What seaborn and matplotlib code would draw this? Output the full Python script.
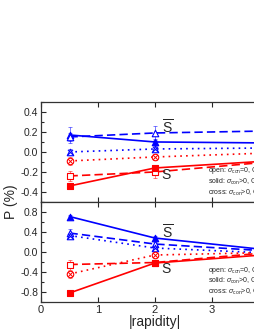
import numpy as np
import pandas as pd
import matplotlib
matplotlib.use('Agg')
import matplotlib.pyplot as plt
import seaborn as sns
from matplotlib.ticker import MultipleLocator

sns.set_style('ticks')
plt.rcParams['font.family'] = ['Liberation Sans', 'DejaVu Sans']
plt.rcParams['mathtext.fontset'] = 'custom'
plt.rcParams['mathtext.rm'] = 'Liberation Sans'
plt.rcParams['mathtext.it'] = 'Liberation Sans:italic'

# data: |rapidity| points, polarization P (%)
rapidity = [0.5, 2.0, 4.0]
series = ['sbar_solid', 'sbar_open', 'sbar_cross', 's_cross', 's_open', 's_solid']

top_vals = {
    'sbar_solid': [0.17, 0.10, 0.09],
    'sbar_open':  [0.15, 0.19, 0.21],
    'sbar_cross': [0.00, 0.03, 0.04],
    's_cross':    [-0.09, -0.05, -0.01],
    's_open':     [-0.24, -0.20, -0.10],
    's_solid':    [-0.34, -0.16, -0.09],
}
top_err = {
    'sbar_solid': [0.08, 0.03, 0.0],
    'sbar_open':  [0.04, 0.07, 0.0],
    'sbar_cross': [0.03, 0.03, 0.0],
    's_cross':    [0.04, 0.03, 0.0],
    's_open':     [0.05, 0.06, 0.0],
    's_solid':    [0.03, 0.03, 0.0],
}
bot_vals = {
    'sbar_solid': [0.71, 0.28, 0.04],
    'sbar_open':  [0.38, 0.16, 0.02],
    'sbar_cross': [0.33, 0.08, -0.02],
    's_cross':    [-0.44, -0.06, -0.01],
    's_open':     [-0.25, -0.21, -0.01],
    's_solid':    [-0.82, -0.22, -0.05],
}
bot_err = {
    'sbar_solid': [0.04, 0.04, 0.0],
    'sbar_open':  [0.08, 0.04, 0.0],
    'sbar_cross': [0.05, 0.04, 0.0],
    's_cross':    [0.07, 0.04, 0.0],
    's_open':     [0.10, 0.04, 0.0],
    's_solid':    [0.06, 0.03, 0.0],
}

legend_lines = [r'open: $\sigma_{\rm con}$=0, G$_V$=0',
                r'solid: $\sigma_{\rm con}$>0, G$_V$=0',
                r'cross: $\sigma_{\rm con}$>0, G$_V$>0']

BLUE = '#0000ff'
RED = '#ff0000'
style = {
    'sbar_solid': dict(color=BLUE, ls='-', marker='^', fill=True),
    'sbar_open':  dict(color=BLUE, ls=(0, (5, 2.5)), marker='^', fill=False),
    'sbar_cross': dict(color=BLUE, ls=(0, (1, 2.5)), marker='^', fill=False, cross=True),
    's_cross':    dict(color=RED, ls=(0, (1, 2.5)), marker='o', fill=False, cross=True),
    's_open':     dict(color=RED, ls=(0, (5, 2.5)), marker='s', fill=False),
    's_solid':    dict(color=RED, ls='-', marker='s', fill=True),
}

fig = plt.figure(figsize=(2.55, 3.3), dpi=100)
ax_top = fig.add_axes([0.161, 0.388, 1.004, 0.303])
ax_bot = fig.add_axes([0.161, 0.0848, 1.004, 0.303])


def draw(ax, vals, errs):
    for name in series:
        st = style[name]
        df = pd.DataFrame({'x': rapidity, 'y': vals[name]})
        sns.lineplot(data=df, x='x', y='y', ax=ax, color=st['color'],
                     linewidth=1.2, linestyle=st['ls'], legend=False)
        px, py, pe = rapidity[:2], vals[name][:2], errs[name][:2]
        ax.errorbar(px, py, yerr=pe, fmt='none', ecolor=st['color'],
                    elinewidth=0.6, capsize=1.5, capthick=0.6, alpha=0.6)
        ax.scatter(px, py, marker=st['marker'], s=22,
                   facecolors=st['color'] if st['fill'] else 'white',
                   edgecolors=st['color'], linewidths=0.8, zorder=5)
        if st.get('cross'):
            ax.scatter(px, py, marker='x', s=14, color=st['color'],
                       linewidths=0.7, zorder=6)


draw(ax_top, top_vals, top_err)
draw(ax_bot, bot_vals, bot_err)

ax_top.set_ylim(-0.5, 0.5)
ax_bot.set_ylim(-1.0, 1.0)
for ax in (ax_top, ax_bot):
    ax.set_xlim(0, 4.5)
    ax.xaxis.set_major_locator(MultipleLocator(1))
    ax.tick_params(which='both', direction='in', top=True, right=True,
                   labelsize=7.5, width=0.8, pad=2)
    ax.tick_params(which='major', length=3.5)
    ax.tick_params(which='minor', length=2)
    for sp in ax.spines.values():
        sp.set_linewidth(0.9)
        sp.set_color('#333333')
    ax.set_xlabel('')
    ax.set_ylabel('')

ax_top.set_yticks([-0.4, -0.2, 0.0, 0.2, 0.4])
ax_top.set_yticklabels(['-0.4', '-0.2', '0.0', '0.2', '0.4'])
ax_top.yaxis.set_minor_locator(MultipleLocator(0.1))
ax_top.tick_params(labelbottom=False)

ax_bot.set_yticks([-0.8, -0.4, 0.0, 0.4, 0.8])
ax_bot.set_yticklabels(['-0.8', '-0.4', '0.0', '0.4', '0.8'])
ax_bot.yaxis.set_minor_locator(MultipleLocator(0.2))
ax_bot.set_xticks([0, 1, 2, 3, 4])
ax_bot.set_xticklabels(['0', '1', '2', '3', '4'])
ax_bot.tick_params(axis='x', labelsize=8)

# quark labels
ax_top.text(2.12, 0.25, r'$\overline{\rm S}$', fontsize=10, va='center')
ax_top.text(2.12, -0.23, 'S', fontsize=10, va='center')
ax_bot.text(2.12, 0.40, r'$\overline{\rm S}$', fontsize=10, va='center')
ax_bot.text(2.12, -0.34, 'S', fontsize=10, va='center')

for ax, ys in ((ax_top, [-0.19, -0.30, -0.41]), (ax_bot, [-0.36, -0.58, -0.80])):
    for txt, yy in zip(legend_lines, ys):
        ax.text(2.93, yy, txt, fontsize=5, va='center', ha='left')

fig.text(0.045, 0.39, 'P (%)', rotation=90, fontsize=10, va='center', ha='center')
fig.text(0.608, 0.024, '|rapidity|', fontsize=10, va='center', ha='center')

fig.savefig('out.png', dpi=100)
